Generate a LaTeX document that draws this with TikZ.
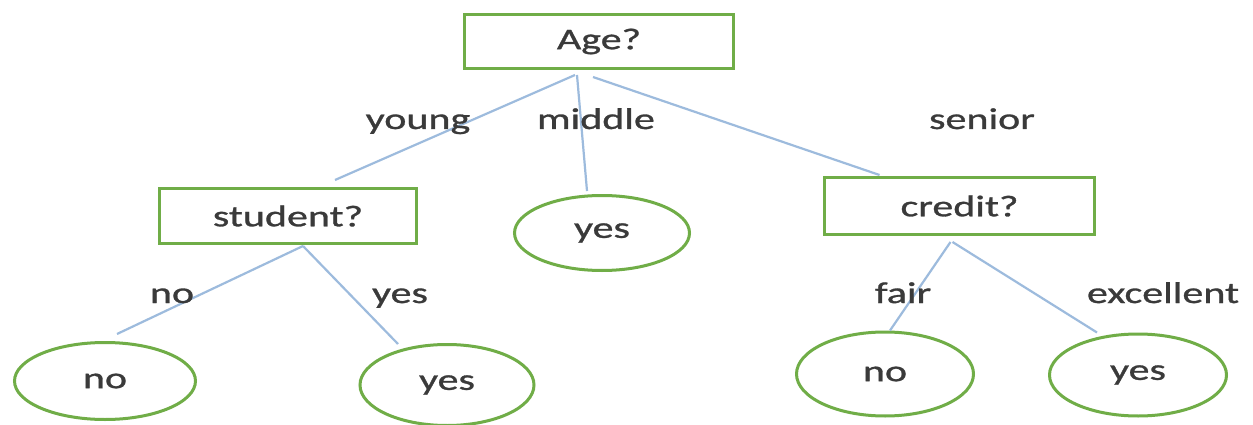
\documentclass[tikz,border=0pt]{standalone}
\usepackage{fontspec}
\setmainfont{Carlito}[FakeStretch=1.4, FakeBold=1]
\usetikzlibrary{shapes.geometric}
\definecolor{leafgreen}{HTML}{70AD47}
\definecolor{branchblue}{HTML}{9DBBDD}
\definecolor{inkgray}{HTML}{3A3A3A}
\tikzset{
  txt/.style={text=inkgray, font=\fontsize{30}{36}\selectfont},
  testbox/.style={txt, draw=leafgreen, line width=3pt, rectangle, inner sep=0pt},
  leaf/.style={txt, draw=leafgreen, line width=3pt, ellipse, inner sep=0pt},
  branch/.style={draw=branchblue, line width=2.2pt},
  lbl/.style={txt, anchor=base, inner sep=0pt}
}
\begin{document}
\begin{tikzpicture}[x=1pt, y=-1pt]
\useasboundingbox[fill=white] (0,0) rectangle (1253,425);

% decision nodes
\node[testbox, minimum width=269pt, minimum height=54pt] (age) at (599,41.5) {Age?};
\node[testbox, minimum width=257pt, minimum height=55pt] (student) at (288,216) {student?};
\node[testbox, minimum width=270pt, minimum height=57pt] (credit) at (959.5,206) {credit?};

% leaves
\node[leaf, minimum width=175pt, minimum height=75pt] (ymid) at (602,233) {yes};
\node[leaf, minimum width=181pt, minimum height=77pt] (nol) at (105,381) {no};
\node[leaf, minimum width=174pt, minimum height=81pt] (yesl) at (447,385) {yes};
\node[leaf, minimum width=177pt, minimum height=84pt] (nor) at (885,374) {no};
\node[leaf, minimum width=177pt, minimum height=82pt] (yesr) at (1138,375) {yes};

% branches
\draw[branch] ([shift={(-24,5)}]age.south) -- ([shift={(47,-7)}]student.north);
\draw[branch] ([shift={(-22,5)}]age.south) -- ([shift={(-15,-3)}]ymid.north);
\draw[branch] ([shift={(-6,7)}]age.south) -- ([shift={(-80,-1)}]credit.north);
\draw[branch] ([shift={(15,1)}]student.south) -- ([shift={(12,-7)}]nol.north);
\draw[branch] ([shift={(15,1)}]student.south) -- ([shift={(-49,1)}]yesl.north);
\draw[branch] ([shift={(-9,6)}]credit.south) -- ([shift={(5,0)}]nor.north);
\draw[branch] ([shift={(-7,6)}]credit.south) -- ([shift={(-41,0)}]yesr.north);

% branch labels
\node[lbl] (lyoung) at (418,129) {young};
\node[lbl] (lmiddle) at (596,129) {middle};
\node[lbl] (lsenior) at (982,129) {senior};
\node[lbl] (lno) at (172,303) {no};
\node[lbl] (lyes) at (400,303) {yes};
\node[lbl] (lfair) at (903,303) {fair};
\node[lbl] (lexc) at (1163,303) {excellent};
\end{tikzpicture}
\end{document}
